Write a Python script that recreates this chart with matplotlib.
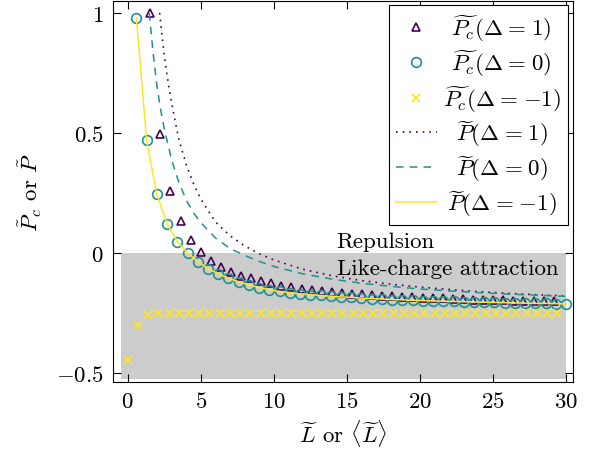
import matplotlib
matplotlib.use("Agg")
import matplotlib.pyplot as plt

plt.rcParams.update({
    "font.family": "serif",
    "font.serif": ["cmr10"],
    "mathtext.fontset": "cm",
    "axes.formatter.use_mathtext": True,
    "axes.unicode_minus": False,
    "font.size": 16.5,
})

# simulated contact pressure, Delta = 1 (triangles)
L_c1 = [1.55, 2.24, 2.93, 3.62, 4.31, 5.00, 5.69, 6.38, 7.07, 7.76, 8.45,
        9.14, 9.83, 10.52, 11.21, 11.90, 12.59, 13.28, 13.97, 14.66, 15.35,
        16.04, 16.73, 17.42, 18.11, 18.80, 19.49, 20.18, 20.87, 21.56, 22.25,
        22.94, 23.63, 24.32, 25.01, 25.70, 26.39, 27.08, 27.77, 28.46, 29.15]
Pc_1 = [1.000, 0.495, 0.260, 0.135, 0.055, 0.005, -0.032, -0.060, -0.078,
        -0.095, -0.105, -0.117, -0.126, -0.136, -0.143, -0.149, -0.154, -0.158,
        -0.162, -0.166, -0.169, -0.172, -0.175, -0.178, -0.180, -0.182, -0.184,
        -0.186, -0.188, -0.189, -0.191, -0.192, -0.194, -0.195, -0.196, -0.197,
        -0.199, -0.200, -0.201, -0.201, -0.202]

# Delta = 0 (circles); the Delta = -1 theory curve runs through the same points
L_c0 = [0.6, 1.3, 2.0, 2.7, 3.4, 4.1, 4.8, 5.5, 6.2, 6.9, 7.6, 8.3, 9.0, 9.7,
        10.4, 11.1, 11.8, 12.5, 13.2, 13.9, 14.6, 15.3, 16.0, 16.7, 17.4, 18.1,
        18.8, 19.5, 20.2, 20.9, 21.6, 22.3, 23.0, 23.7, 24.4, 25.1, 25.8, 26.5,
        27.2, 27.9, 28.6, 29.3, 30.0]
Pc_0 = [0.980, 0.470, 0.245, 0.122, 0.047, 0.000, -0.036, -0.065, -0.087,
        -0.105, -0.120, -0.133, -0.144, -0.153, -0.160, -0.165, -0.170, -0.173,
        -0.177, -0.180, -0.183, -0.185, -0.188, -0.190, -0.192, -0.194, -0.195,
        -0.197, -0.198, -0.200, -0.201, -0.202, -0.203, -0.204, -0.205, -0.206,
        -0.207, -0.208, -0.209, -0.210, -0.210, -0.211, -0.212]

# Delta = -1 (crosses)
L_cm1 = [0.0, 0.7, 1.4, 2.1, 2.8, 3.5, 4.2, 4.9, 5.6, 6.3, 7.0, 7.7, 8.4, 9.1,
         9.8, 10.5, 11.2, 11.9, 12.6, 13.3, 14.0, 14.7, 15.4, 16.1, 16.8, 17.5,
         18.2, 18.9, 19.6, 20.3, 21.0, 21.7, 22.4, 23.1, 23.8, 24.5, 25.2, 25.9,
         26.6, 27.3, 28.0, 28.7, 29.4]
Pc_m1 = [-0.445, -0.300, -0.258, -0.250, -0.250, -0.250, -0.250, -0.250,
         -0.249, -0.249, -0.249, -0.249, -0.249, -0.249, -0.249, -0.249, -0.249,
         -0.249, -0.249, -0.249, -0.249, -0.249, -0.248, -0.248, -0.248, -0.248,
         -0.248, -0.248, -0.248, -0.248, -0.248, -0.248, -0.248, -0.248, -0.248,
         -0.248, -0.248, -0.248, -0.248, -0.248, -0.248, -0.248, -0.248]

# theory curves
L_t1 = [2.19, 2.4, 2.6, 2.8, 3.0, 3.25, 3.5, 4.0, 4.5, 5.0, 6.0, 7.0, 8.0, 9.0,
        10, 12, 14, 16, 18, 20, 22, 24, 26, 28, 30]
P_1 = [1.00, 0.88, 0.78, 0.70, 0.63, 0.55, 0.475, 0.37, 0.29, 0.225, 0.13,
       0.072, 0.030, -0.003, -0.029, -0.068, -0.095, -0.115, -0.130, -0.142,
       -0.152, -0.161, -0.168, -0.174, -0.179]
L_t0 = [1.48, 1.75, 2.0, 2.25, 2.5, 3.0, 3.5, 4.0, 4.5, 5.0, 6.0, 7.0, 8.0, 9.0,
        10, 12, 14, 16, 18, 20, 22, 24, 26, 28, 30]
P_0 = [1.00, 0.83, 0.70, 0.60, 0.52, 0.39, 0.295, 0.222, 0.168, 0.127, 0.063,
       0.019, -0.010, -0.035, -0.056, -0.087, -0.109, -0.126, -0.139, -0.150,
       -0.158, -0.165, -0.171, -0.176, -0.181]
L_tm1 = L_c0
P_m1 = Pc_0

purple, teal, yellow = "#440154", "#21918c", "#fde725"


def lbl(sym, delta):
    # TeX-like spacing around "=" plus a little room on the right
    return rf"${sym}(\Delta\hspace{{0.08}}=\hspace{{0.08}}{{{delta}}})\hspace{{0.5}}$"


fig = plt.figure(figsize=(5.91, 4.56), dpi=100)
ax = fig.add_axes([113 / 591, 1 - 383 / 456, (572.7 - 113) / 591, (383 - 1.5) / 456])

# attraction region
ax.fill_between([-0.45, 30], -0.525, 0, color="#cccccc", lw=0, zorder=0)

ax.plot(L_c1, Pc_1, ls="none", marker="^", ms=6, mfc="none", mec=purple, mew=1.2,
        label=lbl(r"\widetilde{P_c}", "1"))
ax.plot(L_c0, Pc_0, ls="none", marker="o", ms=7, mfc="none", mec=teal, mew=1.2,
        label=lbl(r"\widetilde{P_c}", "0"))
ax.plot(L_cm1, Pc_m1, ls="none", marker="x", ms=5.5, mec=yellow, mew=1.3,
        label=lbl(r"\widetilde{P_c}", "-1"))
ax.plot(L_t1, P_1, color=purple, lw=1.2, ls=(0, (1, 3)),
        label=lbl(r"\widetilde{P}", "1"))
ax.plot(L_t0, P_0, color=teal, lw=1.1, ls=(0, (5, 4)),
        label=lbl(r"\widetilde{P}", "0"))
ax.plot(L_tm1, P_m1, color=yellow, lw=1.1, label=lbl(r"\widetilde{P}", "-1"))

ax.text(14.3, 0.025, "Repulsion", fontsize=16.5, va="baseline")
ax.text(14.3, -0.0875, "Like-charge attraction", fontsize=16.5, va="baseline")

ax.set_xlim(-1.0, 30.45)
ax.set_ylim(-0.5375, 1.052)
ax.set_xticks([0, 5, 10, 15, 20, 25, 30], labels=[f"${v}$" for v in [0, 5, 10, 15, 20, 25, 30]])
ax.set_yticks([-0.5, 0, 0.5, 1], labels=[r"$-0.5$", r"$0$", r"$0.5$", r"$1$"])
ax.tick_params(direction="in", length=6, width=0.8, top=True, right=True,
               labelsize=16.5, pad=6.5)
for s in ax.spines.values():
    s.set_linewidth(0.8)

ax.set_xlabel(r"$\widetilde{L}$ or $\langle\widetilde{L}\rangle$", fontsize=16.5)
ax.set_ylabel(r"$\tilde{P}_c$ or $\tilde{P}$", fontsize=16.5)
ax.yaxis.set_label_coords(-0.150, 0.5)

leg = ax.legend(loc="upper right", bbox_to_anchor=(1, 1), borderaxespad=0.2,
                fancybox=False, edgecolor="black", framealpha=1,
                handlelength=1.75, handletextpad=0.26, labelspacing=0.21,
                borderpad=0.33, fontsize=16.5)
leg.get_frame().set_linewidth(0.8)

# centre the legend labels in their column
fig.canvas.draw()
texts = leg.get_texts()
widths = [t.get_window_extent().width for t in texts]
wmax = max(widths)
for t, w in zip(texts, widths):
    t.set_position(((wmax - w) / 2, 0))

fig.savefig("out.png", dpi=100)
